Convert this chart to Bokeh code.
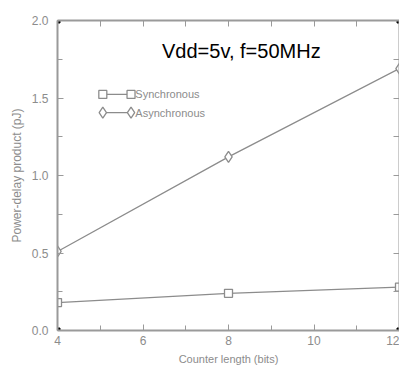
import math
from bokeh.plotting import figure
from bokeh.models import (LinearAxis, FixedTicker, Range1d, Label, ColumnDataSource,
                          CustomJSTickFormatter)
from bokeh.embed import file_html
from bokeh.resources import INLINE

# ---- data ----
counter_bits = [4, 8, 12]
synchronous = [0.18, 0.24, 0.28]
asynchronous = [0.51, 1.12, 1.69]
series_names = ["Synchronous", "Asynchronous"]
x_ticks = [4, 6, 8, 10, 12]
x_minor = [5, 7, 9, 11]
y_ticks = [0.0, 0.5, 1.0, 1.5, 2.0]
y_minor = [0.25, 0.75, 1.25, 1.75]
top_ticks = [4, 5, 6, 7, 8, 9, 10, 11, 12]
right_ticks = [0.0, 0.25, 0.5, 0.75, 1.0, 1.25, 1.5, 1.75, 2.0]
title_text = "Vdd=5v, f=50MHz"
x_label = "Counter length (bits)"
y_label = "Power-delay product (pJ)"

X0, X1 = 4, 12
Y0, Y1 = 0.0, 2.0

GRAY_TXT = "#8c8c8c"
GRAY_AX = "#9a9a9a"
GRAY_LN = "#8c8c8c"
FONT = "Liberation Sans"

p = figure(width=399, height=367, output_backend="svg", toolbar_location=None,
           x_range=Range1d(X0, X1), y_range=Range1d(Y0, Y1),
           min_border_left=57, min_border_right=0, min_border_top=20, min_border_bottom=0,
           background_fill_color="white", border_fill_color="white")
p.outline_line_color = None
p.grid.visible = False

def style_axis(ax, ticks, minor, labels=True):
    ax.ticker = FixedTicker(ticks=ticks, minor_ticks=minor)
    ax.axis_line_color = GRAY_AX
    ax.axis_line_width = 2
    ax.major_tick_line_color = GRAY_AX
    ax.minor_tick_line_color = GRAY_AX
    ax.major_tick_in = 6
    ax.major_tick_out = 0
    ax.minor_tick_in = 5
    ax.minor_tick_out = 0
    ax.major_tick_line_width = 1
    ax.minor_tick_line_width = 1
    if labels:
        ax.major_label_text_color = GRAY_TXT
        ax.major_label_text_font = FONT
        ax.major_label_text_font_size = "12px"
    else:
        ax.formatter = CustomJSTickFormatter(code="return '';")
        ax.major_label_standoff = 0

# bottom
xa = p.xaxis[0]
style_axis(xa, x_ticks, x_minor)
xa.major_label_standoff = 5
xa.axis_label = x_label
xa.axis_label_text_color = GRAY_TXT
xa.axis_label_text_font = FONT
xa.axis_label_text_font_size = "11px"
xa.axis_label_text_font_style = "normal"
xa.axis_label_standoff = 5

# left
ya = p.yaxis[0]
style_axis(ya, y_ticks, y_minor)
ya.major_label_standoff = 9
ya.formatter = CustomJSTickFormatter(code="return tick.toFixed(1);")
ya.axis_label = y_label
ya.axis_label_text_color = GRAY_TXT
ya.axis_label_text_font = FONT
ya.axis_label_text_font_size = "12px"
ya.axis_label_text_font_style = "normal"
ya.axis_label_standoff = 5

# top
ta = LinearAxis()
style_axis(ta, top_ticks, [], labels=False)
p.add_layout(ta, "above")

# right
ra = LinearAxis()
style_axis(ra, right_ticks, [], labels=False)
p.add_layout(ra, "right")

# data
src = ColumnDataSource(dict(x=counter_bits, s=synchronous, a=asynchronous))
p.line("x", "s", source=src, line_color=GRAY_LN, line_width=1.3)
p.line("x", "a", source=src, line_color=GRAY_LN, line_width=1.3)
p.scatter("x", "s", source=src, marker="square", size=8, line_color=GRAY_LN,
          fill_color="white", line_width=1.3)
p.scatter("x", "a", source=src, marker="diamond", size=11, line_color=GRAY_LN,
          fill_color="white", line_width=1.3)

# corner marks
p.scatter([X0, X0, X1, X1], [Y0, Y1, Y0, Y1], marker="square", size=5,
          fill_color="black", line_color="black")

# legend (manual)
LX0, LX1, LXT = 5.06, 5.72, 5.82
LY = [1.523, 1.406]
p.line([LX0, LX1], [LY[0], LY[0]], line_color=GRAY_LN, line_width=1.3)
p.line([LX0, LX1], [LY[1], LY[1]], line_color=GRAY_LN, line_width=1.3)
p.scatter([LX0, LX1], [LY[0], LY[0]], marker="square", size=8, line_color=GRAY_LN,
          fill_color="white", line_width=1.3)
p.scatter([LX0, LX1], [LY[1], LY[1]], marker="diamond", size=11, line_color=GRAY_LN,
          fill_color="white", line_width=1.3)
for name, yy in zip(series_names, LY):
    p.add_layout(Label(x=LXT, y=yy, text=name, text_font=FONT, text_font_size="11px",
                       text_color=GRAY_TXT, text_baseline="middle", text_align="left"))

# title-like annotation
p.add_layout(Label(x=8.3, y=1.806, text=title_text, text_font="Liberation Sans",
                   text_font_size="20px", text_color="black",
                   text_align="center", text_baseline="middle"))

open("out.html", "w").write(file_html(p, INLINE))
